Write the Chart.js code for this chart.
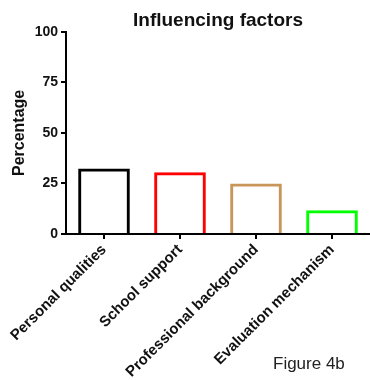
<!DOCTYPE html>
<html>
<head>
<meta charset="utf-8">
<title>Influencing factors</title>
<script src="https://cdn.jsdelivr.net/npm/chart.js@4/dist/chart.umd.min.js"></script>
<style>
  html, body { margin: 0; padding: 0; background: #ffffff; }
  #wrap { width: 370px; height: 380px; }
</style>
</head>
<body>
<div id="wrap"><canvas id="chart" width="370" height="380"></canvas></div>
<script>
// Factor categories and their percentages
const categories = ['Personal qualities', 'School support', 'Professional background', 'Evaluation mechanism'];
const percentages = [32.4, 30.6, 25.0, 11.7];
const barColors = ['#000000', '#ff0000', '#c8965a', '#00ff00'];
const yTicks = [0, 25, 50, 75, 100];

const FONT = "'Liberation Sans', Arial, sans-serif";
const INK = '#111111';

// Caption in the lower right corner
const captionPlugin = {
  id: 'caption',
  afterDraw(chart) {
    const ctx = chart.ctx;
    ctx.save();
    ctx.font = '17px ' + FONT;
    ctx.fillStyle = '#222222';
    ctx.textAlign = 'left';
    ctx.textBaseline = 'alphabetic';
    ctx.fillText('Figure 4b', 273, 369);
    ctx.restore();
  }
};

new Chart(document.getElementById('chart'), {
  type: 'bar',
  data: {
    labels: categories,
    datasets: [{
      data: percentages,
      backgroundColor: 'rgba(0,0,0,0)',
      borderColor: barColors,
      borderWidth: 3,
      borderSkipped: 'start',
      categoryPercentage: 1.0,
      barPercentage: 0.68
    }]
  },
  options: {
    responsive: false,
    animation: false,
    devicePixelRatio: 1,
    layout: { padding: { left: 0, right: 0, top: 0, bottom: 0 } },
    plugins: {
      legend: { display: false },
      tooltip: { enabled: false },
      title: {
        display: true,
        text: 'Influencing factors',
        fullSize: false,
        color: INK,
        font: { family: FONT, size: 19, weight: 'bold', lineHeight: 1.2 },
        padding: { top: 9, bottom: 0 }
      }
    },
    scales: {
      x: {
        offset: true,
        afterFit(scale) { scale.height = 146; },
        grid: {
          offset: false,
          drawOnChartArea: false,
          drawTicks: true,
          tickLength: 5,
          color: '#000000',
          lineWidth: 2,
          z: 1
        },
        border: { display: true, color: '#000000', width: 2, z: 1 },
        ticks: {
          color: INK,
          font: { family: FONT, size: 15, weight: 'bold' },
          minRotation: 45,
          maxRotation: 45,
          autoSkip: false,
          padding: 2
        }
      },
      y: {
        min: 0,
        max: 100,
        afterFit(scale) { scale.width = 66; },
        afterBuildTicks(scale) { scale.ticks = yTicks.map(v => ({ value: v })); },
        grid: {
          drawOnChartArea: false,
          drawTicks: true,
          tickLength: 5,
          color: '#000000',
          lineWidth: 2,
          z: 1
        },
        border: { display: true, color: '#000000', width: 2, z: 1 },
        ticks: {
          color: INK,
          font: { family: FONT, size: 14, weight: 'bold' },
          padding: 3
        },
        title: {
          display: true,
          text: 'Percentage',
          color: INK,
          font: { family: FONT, size: 16, weight: 'bold' },
          padding: { top: 10, bottom: 0 }
        }
      }
    }
  },
  plugins: [captionPlugin]
});
</script>
</body>
</html>
